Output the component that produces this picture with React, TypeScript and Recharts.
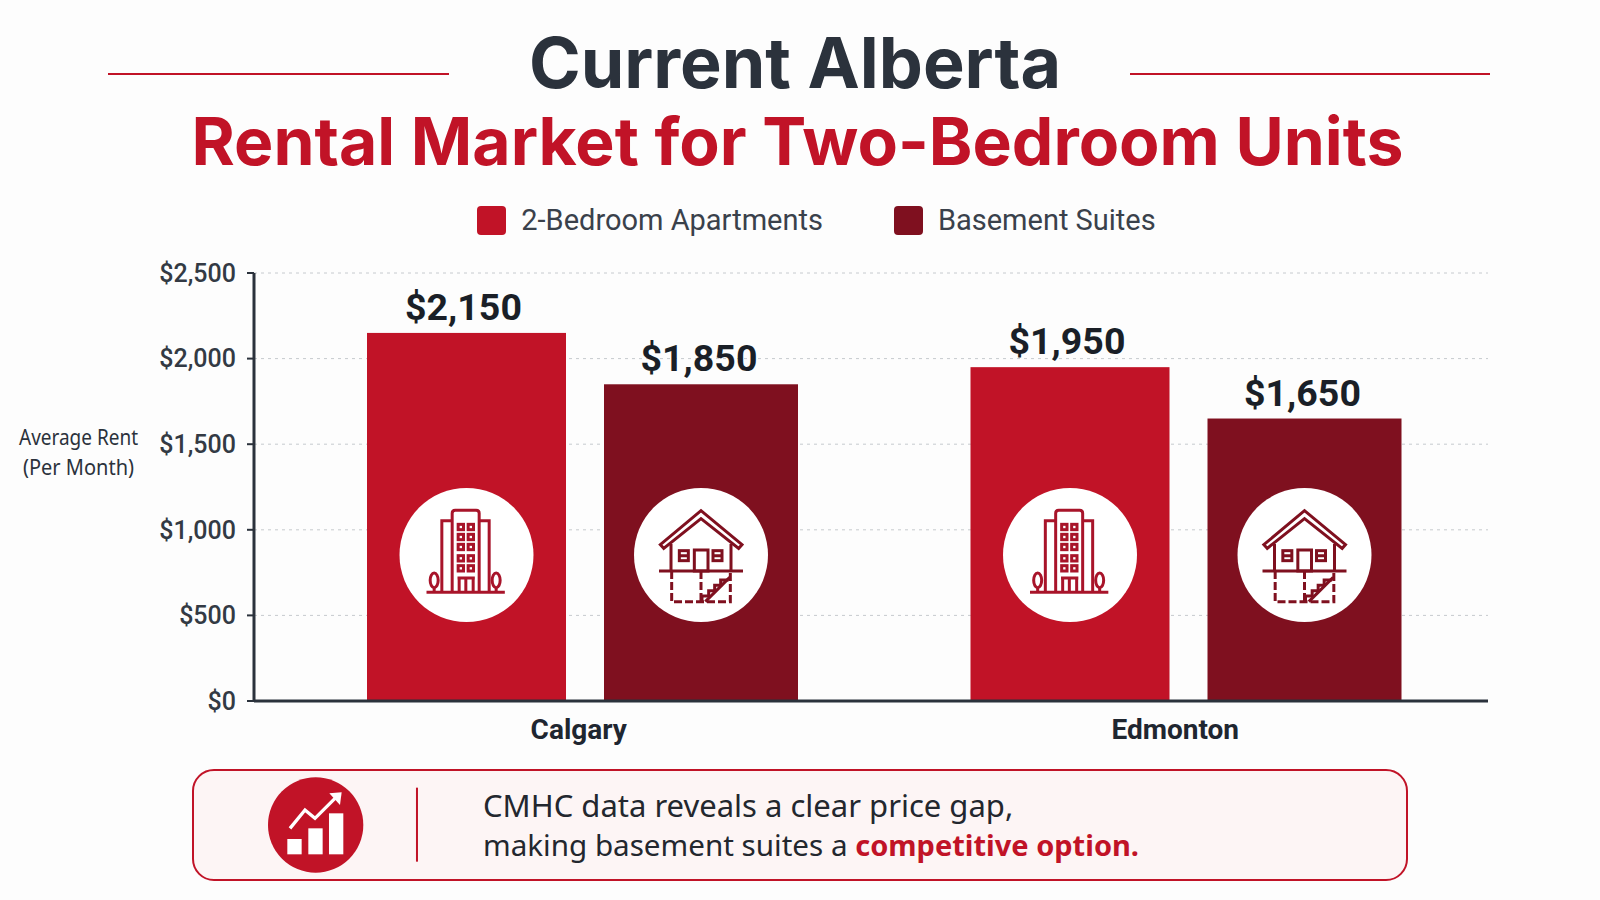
import React from 'react';
import { BarChart, Bar, XAxis, YAxis, CartesianGrid, Legend, LabelList, Label } from 'recharts';

const cities = ['Calgary', 'Edmonton'];
const apartmentRents = [2150, 1950];
const basementRents = [1850, 1650];
const rentTicks = [0, 500, 1000, 1500, 2000, 2500];

const RED = '#c11327';
const DARK = '#7f101f';
const INK = '#2b323c';

const chartData = cities.map((city, i) => ({
  city,
  apartments: apartmentRents[i],
  basement: basementRents[i],
}));

const money = (v: number) => '$' + v.toLocaleString('en-US');

// icons are traced in a 3x crop, hence the scale(1/3)
const BuildingIcon = ({ cx, cy }: { cx: number; cy: number }) => (
  <g transform={`translate(${cx},${cy}) scale(0.3333) translate(-260,-255)`} fill="none" stroke="#a8142a" strokeWidth={9}>
    <path d="M217 365V130q0-9 9-9h63q9 0 9 9V365" />
    <path d="M217 152H186V365M298 152H328V365" />
    {[163, 193, 223, 257, 287].map((y) => (
      <g key={y}>
        <rect x={235} y={y} width={16} height={16} />
        <rect x={265} y={y} width={16} height={16} />
      </g>
    ))}
    <path d="M233 324H285M238 324V365M258 324V365M280 324V365" />
    <path d="M140 367H375" />
    <ellipse cx={163} cy={331} rx={12} ry={22} />
    <ellipse cx={349} cy={331} rx={12} ry={22} />
    <path d="M163 352V365M349 352V365" />
  </g>
);

const BasementIcon = ({ cx, cy }: { cx: number; cy: number }) => (
  <g transform={`translate(${cx},${cy}) scale(0.3333) translate(-962,-255)`} fill="none" stroke={DARK} strokeWidth={9}>
    <path d="M850 235L840 224L962 122L1085 224L1075 235L962 146Z" />
    <path d="M872 222V303M1052 222V303M836 303H1088" />
    <rect x={942} y={240} width={41} height={63} />
    <rect x={897} y={242} width={27} height={30} />
    <rect x={998} y={242} width={27} height={30} />
    <path d="M897 257H924M998 257H1025" />
    <path d="M874 303V395H1050V303M962 303V395" strokeDasharray="24 9" />
    <path d="M965 393V378H985V362H1003V346H1021V330H1045" />
    <path d="M975 395L1048 322" />
  </g>
);

// bar plus the white badge sitting at a fixed height above the baseline
const badgeShape = (fill: string, Icon: typeof BuildingIcon) => (props: any) => {
  const { x, y, width, height } = props;
  const cx = x + width / 2;
  const cy = y + height - 146;
  return (
    <g>
      <rect x={x} y={y} width={width} height={height} fill={fill} />
      <circle cx={cx} cy={cy} r={67} fill="#ffffff" />
      <Icon cx={cx} cy={cy} />
    </g>
  );
};

const CityTick = (props: any) => {
  const { x, y, payload, index } = props;
  return (
    <text x={x + (index === 0 ? -4 : -11)} y={y + 30} textAnchor="middle" fontFamily="Roboto" fontWeight={700} fontSize={28} fill="#1f2630">
      {payload.value}
    </text>
  );
};

// the original face is condensed, so squeeze Noto Sans to the same width
const RentAxisLabel = () => (
  <g fontFamily="Noto Sans" fontSize={22} fill={INK}>
    <text x={19} y={445} textLength={119} lengthAdjust="spacingAndGlyphs">Average Rent</text>
    <text x={23} y={475} textLength={111} lengthAdjust="spacingAndGlyphs">(Per Month)</text>
  </g>
);

const LegendRow = ({ payload }: any) => (
  <div style={{ display: 'flex', justifyContent: 'center', gap: 71, marginLeft: 33 }}>
    {(payload || []).map((p: any) => (
      <div key={p.value} style={{ display: 'flex', alignItems: 'center', gap: 15, fontFamily: 'Roboto', fontSize: 29, color: '#3a414b' }}>
        <span style={{ width: 29, height: 29, borderRadius: 4, background: p.color, display: 'inline-block' }} />
        {p.value}
      </div>
    ))}
  </div>
);

export default function App() {
  return (
    <div style={{ position: 'absolute', left: 0, top: 0, width: 1600, height: 900, background: '#fdfdfd', overflow: 'hidden' }}>
      <div style={{ position: 'absolute', left: 108, top: 73, width: 341, height: 2, background: RED }} />
      <div style={{ position: 'absolute', left: 1130, top: 73, width: 360, height: 2, background: RED }} />
      <div style={{ position: 'absolute', left: 0, top: 18, width: 1590, textAlign: 'center', fontFamily: 'Inter', fontWeight: 700, fontSize: 70, lineHeight: '90px', color: INK }}>
        Current Alberta
      </div>
      <div style={{ position: 'absolute', left: 0, top: 96, width: 1595, textAlign: 'center', fontFamily: 'Inter', fontWeight: 700, fontSize: 66, lineHeight: '90px', color: RED }}>
        Rental Market for Two-Bedroom Units
      </div>

      <BarChart width={1600} height={760} data={chartData} margin={{ top: 273, right: 112, bottom: 29, left: 174 }} barGap={38} style={{ position: 'absolute', left: 0, top: 0 }}>
        <CartesianGrid vertical={false} stroke="#c6cace" strokeDasharray="3 4" />
        <XAxis dataKey="city" axisLine={{ stroke: INK, strokeWidth: 3 }} tickLine={false} height={30} padding={{ left: 27, right: 0 }} tick={<CityTick />} interval={0} />
        <YAxis width={80} domain={[0, 2500]} ticks={rentTicks} tickFormatter={money} axisLine={{ stroke: INK, strokeWidth: 3 }} tickLine={{ stroke: INK, strokeWidth: 2 }} tickSize={7} tickMargin={11} tick={{ fontFamily: 'Roboto', fontWeight: 500, fontSize: 25, fill: '#333a44' }} interval={0}>
          <Label content={<RentAxisLabel />} />
        </YAxis>
        <Legend layout="horizontal" verticalAlign="middle" align="center" wrapperStyle={{ top: 203, left: 0, width: 1600 }} content={<LegendRow />} />
        <Bar dataKey="apartments" name="2-Bedroom Apartments" fill={RED} barSize={199} isAnimationActive={false} shape={badgeShape(RED, BuildingIcon)}>
          <LabelList dataKey="apartments" position="top" offset={13} dx={-3} formatter={money} style={{ fontFamily: 'Roboto', fontWeight: 700, fontSize: 37.5, fill: '#1a1f27' }} />
        </Bar>
        <Bar dataKey="basement" name="Basement Suites" fill={DARK} barSize={194} isAnimationActive={false} shape={badgeShape(DARK, BasementIcon)}>
          <LabelList dataKey="basement" position="top" offset={13} dx={-2} formatter={money} style={{ fontFamily: 'Roboto', fontWeight: 700, fontSize: 37.5, fill: '#1a1f27' }} />
        </Bar>
      </BarChart>

      <div style={{ position: 'absolute', left: 192, top: 769, width: 1216, height: 112, boxSizing: 'border-box', border: `2px solid ${RED}`, borderRadius: 22, background: '#fdf5f5' }} />
      <svg width={1600} height={900} style={{ position: 'absolute', left: 0, top: 0 }}>
        <g transform="translate(180,760) scale(0.3333)">
          <circle cx={407} cy={195} r={143} fill={RED} />
          <rect x={322} y={237} width={43} height={46} fill="#fff" />
          <rect x={385} y={205} width={43} height={78} fill="#fff" />
          <rect x={447} y={160} width={43} height={123} fill="#fff" />
          <path d="M330 205L375 150L405 175L468 112" fill="none" stroke="#fff" strokeWidth={10} />
          <path d="M448 100L485 97L480 135Z" fill="#fff" />
          <rect x={708} y={83} width={6} height={222} fill={RED} />
        </g>
      </svg>
      <div style={{ position: 'absolute', left: 483, top: 786, fontFamily: 'Noto Sans', fontSize: 31, lineHeight: '39px', color: '#23272e', whiteSpace: 'nowrap' }}>
        CMHC data reveals a clear price gap,
        <br />
        <span style={{ fontSize: 29.6 }}>making basement suites a </span>
        <span style={{ color: RED, fontWeight: 700, fontSize: 29 }}>competitive option.</span>
      </div>
    </div>
  );
}
